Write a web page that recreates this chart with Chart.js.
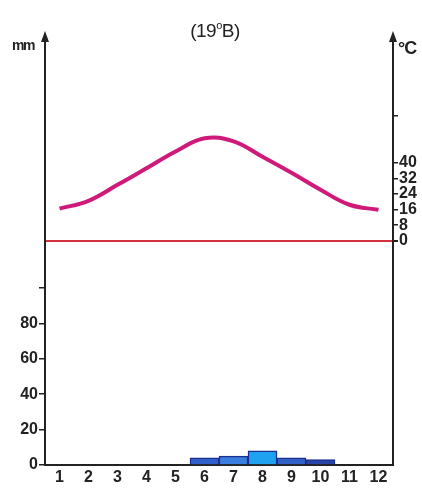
<!DOCTYPE html>
<html>
<head>
<meta charset="utf-8">
<script src="https://cdn.jsdelivr.net/npm/chart.js@4"></script>
<style>
  body { margin: 0; background: #fff; }
  #wrap { position: relative; width: 422px; height: 490px; font-family: "Liberation Sans", Arial, sans-serif; }
  #wrap canvas { position: absolute; left: 0; top: 0; }
  .lbl { position: absolute; color: #222; white-space: nowrap; }
  #title { left: 0; width: 430px; text-align: center; top: 19px; font-size: 19px; letter-spacing: -0.5px; }
  #title sup { font-size: 11px; vertical-align: 8px; }
  #mm { left: 12px; top: 37px; font-size: 14px; font-weight: bold; letter-spacing: -1.5px; }
  #degc { left: 398px; top: 38px; font-size: 18px; font-weight: bold; letter-spacing: -1px; }
</style>
</head>
<body>
<div id="wrap">
  <canvas id="chart"></canvas>
  <div class="lbl" id="title">(19<sup>o</sup>B)</div>
  <div class="lbl" id="mm">mm</div>
  <div class="lbl" id="degc">°C</div>
</div>
<script>
// dữ liệu
const months = ['1', '2', '3', '4', '5', '6', '7', '8', '9', '10', '11', '12'];
const rain = [0, 0, 0, 0, 0, 4, 5, 8, 4, 3, 0, 0];
const temp = [16.5, 20.5, 28.7, 37.2, 45.8, 52.6, 51, 43.1, 34.9, 26.2, 18.5, 15.9];
const rainTicks = [0, 20, 40, 60, 80, 100];
const rainTickLabels = ['0', '20', '40', '60', '80', ''];
const tempTicks = [0, 8, 16, 24, 32, 40, 64];
const tempTickLabels = ['0', '8', '16', '24', '32', '40', ''];
const barColors = ['#2f5fc8', '#2f5fc8', '#2f5fc8', '#2f5fc8', '#2f5fc8', '#2f5fc8', '#3a7ee0', '#1fa3f0', '#3062c8', '#2a45a8', '#2a45a8', '#2a45a8'];

const axisFont = { family: '"Liberation Sans", Arial, sans-serif', size: 16, weight: 'bold' };

// mũi tên ở đầu hai trục
const arrows = {
    id: 'arrows',
    afterDraw(chart) {
        const ctx = chart.ctx;
        const a = chart.chartArea;
        ctx.save();
        ctx.fillStyle = '#222';
        ctx.strokeStyle = '#222';
        ctx.lineWidth = 2;
        [a.left, a.right].forEach(x => {
            ctx.beginPath();
            ctx.moveTo(x, a.top);
            ctx.lineTo(x, a.top - 2);
            ctx.stroke();
            ctx.beginPath();
            ctx.moveTo(x, a.top - 9);
            ctx.lineTo(x - 4, a.top + 2);
            ctx.lineTo(x + 4, a.top + 2);
            ctx.closePath();
            ctx.fill();
        });
        ctx.restore();
    }
};

new Chart(document.getElementById('chart'), {
    data: {
        labels: months,
        datasets: [{
            type: 'line',
            data: temp,
            yAxisID: 'yT',
            borderColor: '#cf1a7a',
            borderWidth: 4,
            pointRadius: 0,
            tension: 0.4,
            order: 0
        }, {
            type: 'bar',
            data: rain,
            yAxisID: 'yP',
            backgroundColor: barColors,
            borderColor: '#1c2f8f',
            borderWidth: 1.5,
            barPercentage: 1,
            categoryPercentage: 1,
            order: 1
        }]
    },
    options: {
        responsive: true,
        maintainAspectRatio: false,
        animation: false,
        layout: { padding: { top: 40, left: 0, right: 0, bottom: 0 } },
        plugins: { legend: { display: false }, tooltip: { enabled: false } },
        scales: {
            x: {
                offset: true,
                afterFit: s => { s.height = 25; },
                grid: { color: 'transparent', drawTicks: false },
                border: { color: '#222', width: 2 },
                ticks: { color: '#222', font: axisFont, padding: 3, maxRotation: 0, autoSkip: false }
            },
            yP: {
                position: 'left',
                min: 0,
                max: 240,
                afterFit: s => { s.width = 45; },
                afterBuildTicks: s => { s.ticks = rainTicks.map(v => ({ value: v })); },
                grid: { drawOnChartArea: false, color: '#222', tickLength: 6, lineWidth: 1.5 },
                border: { color: '#222', width: 2 },
                ticks: {
                    color: '#222', font: axisFont, padding: 1,
                    callback: (v, i) => rainTickLabels[i]
                }
            },
            yT: {
                position: 'right',
                min: -115,
                max: 103,
                afterFit: s => { s.width = 29; },
                afterBuildTicks: s => { s.ticks = tempTicks.map(v => ({ value: v })); },
                grid: {
                    drawOnChartArea: true,
                    color: c => c.tick && c.tick.value === 0 ? '#d2323f' : 'transparent',
                    tickColor: '#222',
                    lineWidth: c => c.tick && c.tick.value === 0 ? 2 : 1.5,
                    tickLength: 5
                },
                border: { color: '#222', width: 2 },
                ticks: {
                    color: '#222', font: axisFont, padding: 1,
                    callback: (v, i) => tempTickLabels[i]
                }
            }
        }
    },
    plugins: [arrows]
});
</script>
</body>
</html>
